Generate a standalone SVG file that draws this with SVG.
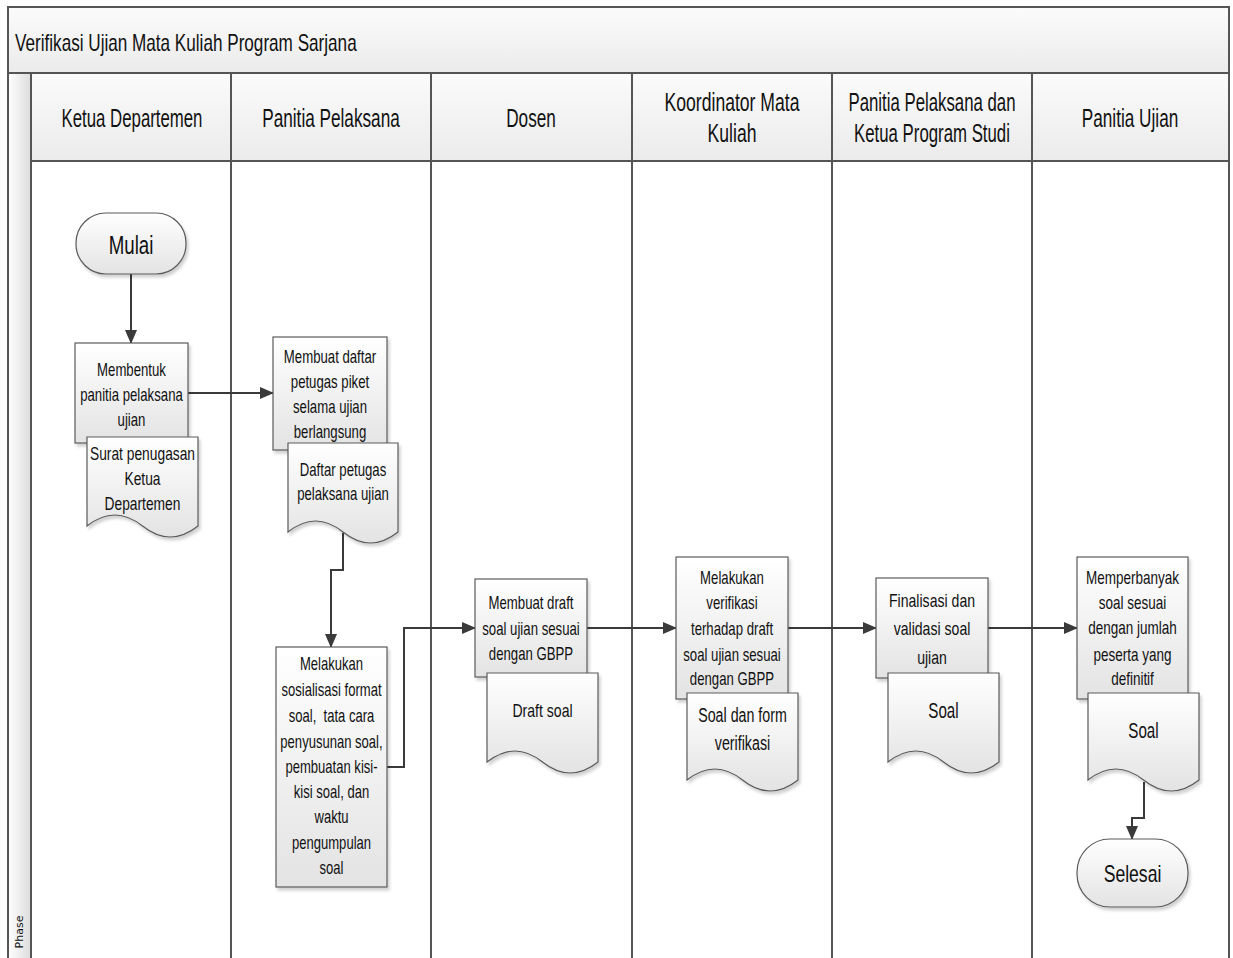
<svg xmlns="http://www.w3.org/2000/svg" width="1233" height="958" viewBox="0 0 1233 958">
<style>
text{font-family:"Liberation Sans",Arial,sans-serif;fill:#111;text-anchor:middle}
.t{font-size:18px}
.d{font-size:19px}
.h{font-size:25px}
.frame{fill:none;stroke:#555;stroke-width:2}
.box{fill:url(#gb);stroke:#5a5a5a;stroke-width:1.2;filter:url(#sh)}
.conn{fill:none;stroke:#3a3a3a;stroke-width:2}
</style>
<defs>
<linearGradient id="gb" x1="0" y1="0" x2="0" y2="1"><stop offset="0" stop-color="#ffffff"/><stop offset="1" stop-color="#e3e3e3"/></linearGradient>
<linearGradient id="gh" x1="0" y1="0" x2="0" y2="1"><stop offset="0" stop-color="#fbfbfb"/><stop offset="1" stop-color="#ebebeb"/></linearGradient>
<linearGradient id="gp" x1="0" y1="0" x2="1" y2="0"><stop offset="0" stop-color="#ffffff"/><stop offset="1" stop-color="#dcdcdc"/></linearGradient>
<filter id="sh" x="-10%" y="-10%" width="130%" height="130%"><feDropShadow dx="2" dy="3" stdDeviation="1.5" flood-color="#000" flood-opacity="0.18"/></filter>
<marker id="ar" markerUnits="userSpaceOnUse" markerWidth="14" markerHeight="12" refX="13" refY="6" orient="auto"><path d="M0,0 L14,6 L0,12 z" fill="#3a3a3a"/></marker>
</defs>
<g id="pool">
<rect x="8" y="7" width="1221" height="66" fill="url(#gh)"/>
<rect x="31" y="73" width="1198" height="88" fill="url(#gh)"/>
<rect x="8" y="73" width="23" height="890" fill="url(#gp)"/>
<rect x="31" y="161" width="1198" height="800" fill="#ffffff"/>
<rect x="8" y="7" width="1221" height="960" class="frame"/>
<path class="frame" d="M8,73 H1229 M31,73 V958 M31,161 H1229 M231,73 V958 M431,73 V958 M632,73 V958 M832,73 V958 M1032,73 V958"/>
<text x="0" y="51" style="font-size:23px;text-anchor:start" transform="translate(15 0) scale(0.745 1)">Verifikasi Ujian Mata Kuliah Program Sarjana</text>
<text x="0" y="127" class="h" transform="translate(132 0) scale(0.672 1)">Ketua Departemen</text>
<text x="0" y="127" class="h" transform="translate(331 0) scale(0.688 1)">Panitia Pelaksana</text>
<text x="0" y="127" class="h" transform="translate(531 0) scale(0.688 1)">Dosen</text>
<text x="0" y="111" class="h" transform="translate(732 0) scale(0.704 1)">Koordinator Mata</text>
<text x="0" y="142" class="h" transform="translate(732 0) scale(0.704 1)">Kuliah</text>
<text x="0" y="111" class="h" transform="translate(932 0) scale(0.672 1)">Panitia Pelaksana dan</text>
<text x="0" y="142" class="h" transform="translate(932 0) scale(0.672 1)">Ketua Program Studi</text>
<text x="0" y="127" class="h" transform="translate(1130 0) scale(0.688 1)">Panitia Ujian</text>
<text x="0" y="0" transform="translate(23,932) rotate(-90)" style="font-family:'DejaVu Sans',sans-serif;font-size:11px">Phase</text>
</g>
<g id="connectors">
<path class="conn" marker-end="url(#ar)" d="M131,274 V343"/>
<path class="conn" marker-end="url(#ar)" d="M188,393 H273"/>
<path class="conn" marker-end="url(#ar)" d="M343,533 V570 H331 V647"/>
<path class="conn" marker-end="url(#ar)" d="M387,767 H404 V628 H475"/>
<path class="conn" marker-end="url(#ar)" d="M587,628 H676"/>
<path class="conn" marker-end="url(#ar)" d="M788,628 H876"/>
<path class="conn" marker-end="url(#ar)" d="M988,628 H1077"/>
<path class="conn" marker-end="url(#ar)" d="M1144,782 V818 H1132 V839"/>
</g>
<g id="mulai">
<rect x="76" y="213" width="110" height="61" rx="30" ry="30" class="box"/>
<text x="0" y="254" style="font-size:25px" transform="translate(131 0) scale(0.748 1)">Mulai</text>
</g>
<g id="membentuk">
<rect x="75" y="343" width="113" height="100" class="box"/>
<g transform="translate(131.5 0) scale(0.733 1)">
<text x="0" y="376.5" class="t">Membentuk</text>
<text x="0" y="401.5" class="t">panitia pelaksana</text>
<text x="0" y="426.5" class="t">ujian</text>
</g>
</g>
<g id="surat">
<path class="box" d="M87,437 H198 V526 Q170.25,548 142.5,526 T87,526 Z"/>
<g transform="translate(142.5 0) scale(0.767 1)">
<text x="0" y="460.5" class="t">Surat penugasan</text>
<text x="0" y="485.5" class="t">Ketua</text>
<text x="0" y="510.5" class="t">Departemen</text>
</g>
</g>
<g id="membuat-daftar">
<rect x="273" y="337" width="114" height="113" class="box"/>
<g transform="translate(330 0) scale(0.733 1)">
<text x="0" y="363.5" class="t">Membuat daftar</text>
<text x="0" y="388.5" class="t">petugas piket</text>
<text x="0" y="413.5" class="t">selama ujian</text>
<text x="0" y="438.5" class="t">berlangsung</text>
</g>
</g>
<g id="daftar-petugas">
<path class="box" d="M288,443 H398 V532 Q370.5,554 343,532 T288,532 Z"/>
<g transform="translate(343 0) scale(0.733 1)">
<text x="0" y="476.5" class="t">Daftar petugas</text>
<text x="0" y="500.5" class="t">pelaksana ujian</text>
</g>
</g>
<g id="sosialisasi">
<rect x="276" y="647" width="111" height="240" class="box"/>
<g transform="translate(331.5 0) scale(0.725 1)">
<text x="0" y="670.5" class="t">Melakukan</text>
<text x="0" y="696.5" class="t">sosialisasi format</text>
<text x="0" y="722.5" class="t" xml:space="preserve">soal,  tata cara</text>
<text x="0" y="748.5" class="t">penyusunan soal,</text>
<text x="0" y="773.5" class="t">pembuatan kisi-</text>
<text x="0" y="798.5" class="t">kisi soal, dan</text>
<text x="0" y="823.5" class="t">waktu</text>
<text x="0" y="849.5" class="t">pengumpulan</text>
<text x="0" y="874.5" class="t">soal</text>
</g>
</g>
<g id="membuat-draft">
<rect x="475" y="579" width="112" height="98" class="box"/>
<g transform="translate(531 0) scale(0.733 1)">
<text x="0" y="609.5" class="t">Membuat draft</text>
<text x="0" y="634.5" class="t">soal ujian sesuai</text>
<text x="0" y="660.5" class="t">dengan GBPP</text>
</g>
</g>
<g id="draft-soal">
<path class="box" d="M487,673 H598 V762 Q570.25,784 542.5,762 T487,762 Z"/>
<text x="0" y="717.5" class="d" transform="translate(542.5 0) scale(0.741 1)">Draft soal</text>
</g>
<g id="verifikasi">
<rect x="676" y="557" width="112" height="142" class="box"/>
<g transform="translate(732 0) scale(0.733 1)">
<text x="0" y="584.5" class="t">Melakukan</text>
<text x="0" y="609.5" class="t">verifikasi</text>
<text x="0" y="635.5" class="t">terhadap draft</text>
<text x="0" y="661.5" class="t">soal ujian sesuai</text>
<text x="0" y="685.5" class="t">dengan GBPP</text>
</g>
</g>
<g id="soal-form">
<path class="box" d="M687,693 H798 V780 Q770.25,802 742.5,780 T687,780 Z"/>
<g transform="translate(742.5 0) scale(0.712 1)">
<text x="0" y="722.5" style="font-size:20px">Soal dan form</text>
<text x="0" y="750.5" style="font-size:20px">verifikasi</text>
</g>
</g>
<g id="finalisasi">
<rect x="876" y="578" width="112" height="100" class="box"/>
<g transform="translate(932 0) scale(0.741 1)">
<text x="0" y="607.5" class="d">Finalisasi dan</text>
<text x="0" y="635.5" class="d">validasi soal</text>
<text x="0" y="664.5" class="d">ujian</text>
</g>
</g>
<g id="soal-1">
<path class="box" d="M888,673 H999 V762 Q971.25,784 943.5,762 T888,762 Z"/>
<text x="0" y="718.5" style="font-size:22px" transform="translate(943.5 0) scale(0.69 1)">Soal</text>
</g>
<g id="memperbanyak">
<rect x="1077" y="557" width="111" height="142" class="box"/>
<g transform="translate(1132.5 0) scale(0.75 1)">
<text x="0" y="584.5" class="t">Memperbanyak</text>
<text x="0" y="609.5" class="t">soal sesuai</text>
<text x="0" y="634.5" class="t">dengan jumlah</text>
<text x="0" y="661.5" class="t">peserta yang</text>
<text x="0" y="685.5" class="t">definitif</text>
</g>
</g>
<g id="soal-2">
<path class="box" d="M1088,693 H1199 V780 Q1171.25,802 1143.5,780 T1088,780 Z"/>
<text x="0" y="738.5" style="font-size:22px" transform="translate(1143.5 0) scale(0.69 1)">Soal</text>
</g>
<g id="selesai">
<rect x="1077" y="839" width="111" height="68" rx="33" ry="33" class="box"/>
<text x="0" y="882.5" style="font-size:23px" transform="translate(1132.5 0) scale(0.765 1)">Selesai</text>
</g>
</svg>
